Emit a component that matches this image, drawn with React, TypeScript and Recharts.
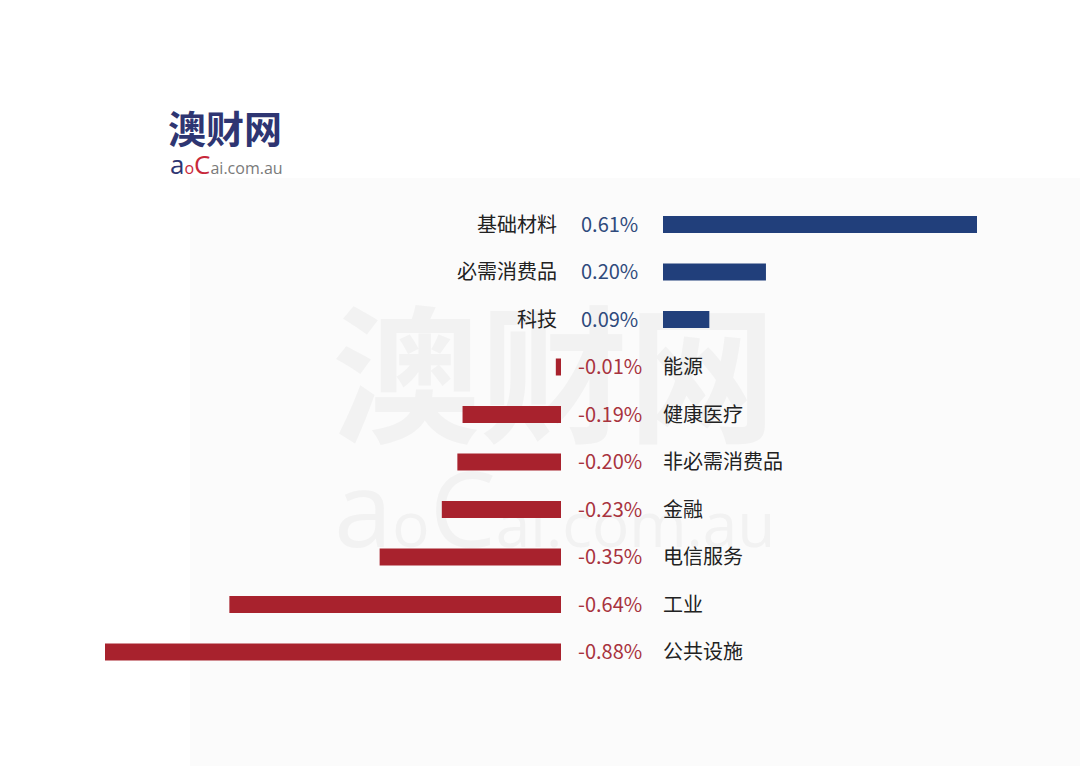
import { BarChart, Bar, XAxis, YAxis, LabelList } from 'recharts'

const sectors = ['基础材料', '必需消费品', '科技', '能源', '健康医疗', '非必需消费品', '金融', '电信服务', '工业', '公共设施']
const changes = [0.61, 0.2, 0.09, -0.01, -0.19, -0.2, -0.23, -0.35, -0.64, -0.88]

const NAVY = '#213f7b'
const RED = '#a8222d'
const FONT = '"Noto Sans CJK SC", "Noto Sans", sans-serif'

const rows = sectors.map((name, i) => ({
  name,
  pos: changes[i] > 0 ? changes[i] : null,
  neg: changes[i] < 0 ? changes[i] : null
}))

const W = 1080
const H = 766
const TOP = 201
const BOTTOM = H - 676

// label index only counts drawn bars, so look the sector up by its value
const sectorOf = (v: number) => sectors[changes.indexOf(v)]

function negLabel(p: any) {
  if (p.value == null) return null
  const x = Number(p.x)
  const w = Number(p.width)
  const zero = Math.max(x, x + w)
  const cy = Number(p.y) + Number(p.height) / 2 + 7
  return (
    <g>
      <text x={zero + 17} y={cy} fill="#a8333e" fontSize={20} fontFamily={FONT}>
        {`${Number(p.value).toFixed(2)}%`}
      </text>
      <text x={zero + 102} y={cy} fill="#222" fontSize={20} fontFamily={FONT}>
        {sectorOf(p.value)}
      </text>
    </g>
  )
}

function posLabel(p: any) {
  if (p.value == null) return null
  const x = Number(p.x)
  const w = Number(p.width)
  const zero = Math.min(x, x + w)
  const cy = Number(p.y) + Number(p.height) / 2 + 7
  return (
    <g>
      <text x={zero - 106} y={cy} textAnchor="end" fill="#222" fontSize={20} fontFamily={FONT}>
        {sectorOf(p.value)}
      </text>
      <text x={zero - 82} y={cy} fill="#2f4a7c" fontSize={20} fontFamily={FONT}>
        {`${Number(p.value).toFixed(2)}%`}
      </text>
    </g>
  )
}

export default function App() {
  return (
    <div
      style={{
        position: 'absolute',
        left: 0,
        top: 0,
        width: W,
        height: H,
        background: '#fff',
        overflow: 'hidden',
        fontFamily: FONT
      }}
    >
      {/* faint panel behind the chart */}
      <div style={{ position: 'absolute', left: 190, top: 178, right: 0, bottom: 0, background: '#fbfbfb' }} />

      {/* watermark */}
      <div
        style={{
          position: 'absolute',
          left: 332,
          top: 293,
          fontSize: 148,
          fontWeight: 700,
          color: '#f2f2f2',
          lineHeight: 1,
          whiteSpace: 'nowrap'
        }}
      >
        澳财网
      </div>
      <div
        style={{
          position: 'absolute',
          left: 334,
          top: 454,
          fontSize: 62,
          color: '#f2f2f2',
          lineHeight: 1,
          whiteSpace: 'nowrap',
          fontFamily: '"Open Sans", sans-serif'
        }}
      >
        <span style={{ fontSize: 105 }}>a</span>
        <span>o</span>
        <span style={{ fontSize: 105 }}>C</span>
        ai.com.au
      </div>

      {/* logo */}
      <div
        style={{
          position: 'absolute',
          left: 168,
          top: 106,
          fontSize: 38,
          fontWeight: 700,
          color: '#2e3572',
          lineHeight: 1.1,
          whiteSpace: 'nowrap'
        }}
      >
        澳财网
      </div>
      <div
        style={{
          position: 'absolute',
          left: 170,
          top: 149,
          fontSize: 16,
          lineHeight: 1.2,
          whiteSpace: 'nowrap',
          fontFamily: '"Open Sans", sans-serif',
          color: '#7a7a7a'
        }}
      >
        <span style={{ color: '#2e3572', fontSize: 26 }}>a</span>
        <span style={{ color: '#c8283a' }}>o</span>
        <span style={{ color: '#c8283a', fontSize: 26 }}>C</span>
        ai.com.au
      </div>

      {/* negative side */}
      <div style={{ position: 'absolute', left: 0, top: 0 }}>
        <BarChart
          width={W}
          height={H}
          data={rows}
          layout="vertical"
          margin={{ top: TOP, bottom: BOTTOM, left: 105, right: W - 561 }}
        >
          <XAxis type="number" domain={[-0.88, 0]} allowDataOverflow hide />
          <YAxis type="category" dataKey="name" hide />
          <Bar dataKey="neg" fill={RED} barSize={17} isAnimationActive={false}>
            <LabelList dataKey="neg" content={negLabel} />
          </Bar>
        </BarChart>
      </div>

      {/* positive side */}
      <div style={{ position: 'absolute', left: 0, top: 0 }}>
        <BarChart
          width={W}
          height={H}
          data={rows}
          layout="vertical"
          margin={{ top: TOP, bottom: BOTTOM, left: 663, right: W - 977 }}
        >
          <XAxis type="number" domain={[0, 0.61]} allowDataOverflow hide />
          <YAxis type="category" dataKey="name" hide />
          <Bar dataKey="pos" fill={NAVY} barSize={17} isAnimationActive={false}>
            <LabelList dataKey="pos" content={posLabel} />
          </Bar>
        </BarChart>
      </div>
    </div>
  )
}
